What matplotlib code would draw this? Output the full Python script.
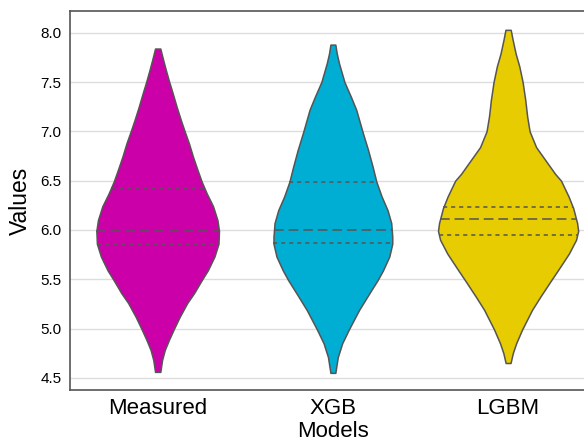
import numpy as np
import matplotlib
matplotlib.use("Agg")
import matplotlib.pyplot as plt

plt.rcParams['font.family'] = ['Liberation Sans', 'DejaVu Sans']
plt.rcParams['lines.scale_dashes'] = False

# ---------------------------------------------------------------
# data (value level, violin half-width)
# ---------------------------------------------------------------
models = ["Measured", "XGB", "LGBM"]
colors = ["#cc00a8", "#00aed3", "#e6cc00"]

measured_y = [7.84, 7.79, 7.72, 7.62, 7.50, 7.39, 7.25, 7.11, 6.99, 6.88, 6.74, 6.61, 6.49, 6.37,
              6.24, 6.10, 5.99, 5.86, 5.73, 5.59, 5.49, 5.36, 5.26, 5.12, 4.99, 4.88, 4.78, 4.68, 4.56]
measured_w = [0.015, 0.022, 0.032, 0.047, 0.066, 0.085, 0.108, 0.133, 0.156, 0.178, 0.202, 0.227,
              0.251, 0.280, 0.316, 0.341, 0.350, 0.347, 0.324, 0.286, 0.251, 0.208, 0.169, 0.126,
              0.091, 0.063, 0.040, 0.025, 0.015]

xgb_y = [7.88, 7.79, 7.69, 7.50, 7.35, 7.22, 6.99, 6.81, 6.64, 6.49, 6.34, 6.20, 6.07, 5.93,
         5.86, 5.73, 5.59, 5.49, 5.36, 5.19, 4.99, 4.85, 4.71, 4.55]
xgb_w = [0.014, 0.022, 0.035, 0.066, 0.103, 0.133, 0.170, 0.201, 0.227, 0.248, 0.278, 0.312,
         0.333, 0.339, 0.339, 0.322, 0.286, 0.255, 0.209, 0.150, 0.091, 0.053, 0.028, 0.014]

lgbm_y = [8.03, 7.93, 7.79, 7.66, 7.50, 7.32, 7.15, 7.00, 6.84, 6.71, 6.57, 6.50, 6.34, 6.22,
          6.07, 5.99, 5.90, 5.76, 5.59, 5.49, 5.32, 5.19, 4.99, 4.85, 4.75, 4.65]
lgbm_w = [0.015, 0.026, 0.043, 0.064, 0.083, 0.098, 0.109, 0.123, 0.160, 0.212, 0.268, 0.302,
          0.345, 0.372, 0.394, 0.400, 0.388, 0.347, 0.284, 0.246, 0.183, 0.137, 0.080, 0.046,
          0.027, 0.014]

# quartiles (q1, median, q3)
quartiles = [[5.86, 5.99, 6.43],
             [5.87, 6.00, 6.49],
             [5.95, 6.11, 6.23]]

profiles = [(measured_y, measured_w), (xgb_y, xgb_w), (lgbm_y, lgbm_w)]

fig = plt.figure(figsize=(5.84, 4.44), dpi=100)
# right spine sits just outside the picture, like the cropped reference
ax = fig.add_axes([0.12, 0.1216, 0.90, 0.8534])

edge = "#555555"
for i, (yy, ww) in enumerate(profiles):
    yy = np.array(yy)
    ww = np.array(ww)
    ax.fill_betweenx(yy, i - ww, i + ww, facecolor=colors[i], edgecolor=edge,
                     linewidth=1.1, zorder=3)
    # quartile lines across the violin
    order = np.argsort(yy)
    for j, q in enumerate(quartiles[i]):
        hw = np.interp(q, yy[order], ww[order])
        dashes = (7, 3.5) if j == 1 else (3, 2.8)
        ax.plot([i - hw, i + hw], [q, q], color=edge, linewidth=1.1,
                dashes=dashes, zorder=4)

ax.set_xlim(-0.5, 2.5)
ax.set_ylim(4.376, 8.22)
ax.set_yticks(np.arange(4.5, 8.01, 0.5))
ax.set_yticklabels(["%.1f" % v for v in np.arange(4.5, 8.01, 0.5)])
ax.set_xticks(range(3))
ax.set_xticklabels(models, fontsize=16)
ax.tick_params(axis='y', labelsize=11, length=0, pad=6)
ax.tick_params(axis='x', length=0, pad=6)
ax.yaxis.grid(True, color="#dddddd", linewidth=1.0, zorder=0)
ax.set_axisbelow(True)

for s in ax.spines.values():
    s.set_color("#555555")
    s.set_linewidth(1.2)

ax.set_xlabel("Models", fontsize=16, labelpad=1)
ax.set_ylabel("Values", fontsize=16.5, labelpad=6)

fig.savefig("out.png", dpi=100)
